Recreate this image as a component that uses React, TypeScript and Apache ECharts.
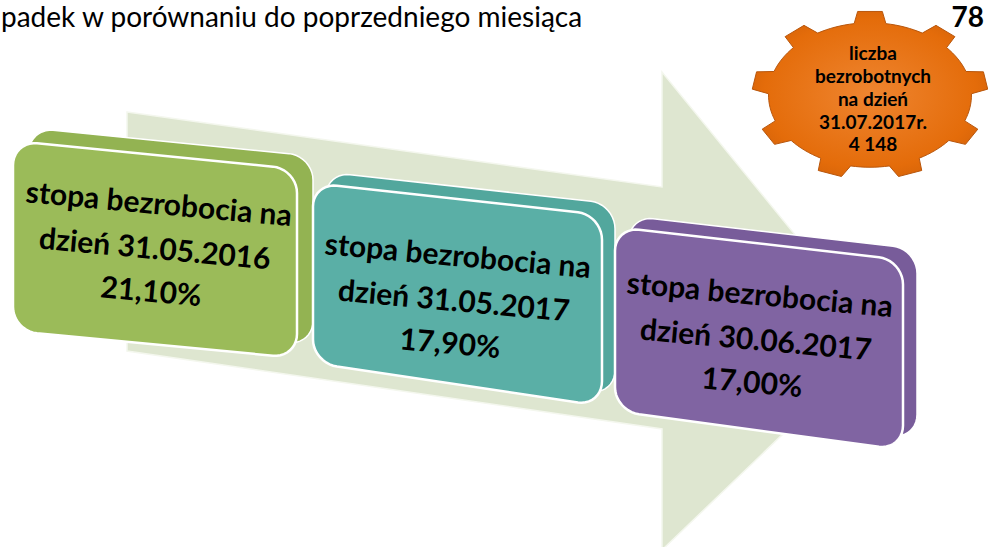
import React, { useEffect, useRef } from 'react';
import * as echarts from 'echarts';

// ---------- content ----------
const headerText = 'padek w porównaniu do poprzedniego miesiąca';
const headerNumber = '78';
const boxTitles = ['stopa bezrobocia na', 'stopa bezrobocia na', 'stopa bezrobocia na'];
const boxDates = ['dzień 31.05.2016', 'dzień 31.05.2017', 'dzień 30.06.2017'];
const boxValues = ['21,10%', '17,90%', '17,00%'];
const gearLines = ['liczba', 'bezrobotnych', 'na dzień', '31.07.2017r.', '4 148'];

// ---------- layout / style ----------
type P = [number, number];
const FRONT: P[][] = [
  [[13, 141], [297, 169], [297, 358], [13, 331]],
  [[313, 183], [602, 215], [602, 406], [313, 363]],
  [[615, 227], [903, 260], [903, 450], [615, 411]],
];
const BACK_OFFSET: P[] = [[16, -13], [13, -11], [14, -11]];
const FACE = ['#9bbb59', '#5aafa6', '#8064a2'];
const SIDE = ['#93b352', '#52a79d', '#785c9a'];
const TEXT_CENTER: P[] = [[155, 247], [454, 299], [756, 338]];
const ARROW: P[] = [[127, 112], [662, 187], [662, 72], [881, 340], [662, 550], [662, 429], [127, 351]];
const TILT = 0.09;

function lerp(a: P, b: P, t: number): P {
  return [a[0] + (b[0] - a[0]) * t, a[1] + (b[1] - a[1]) * t];
}
function mapQuad(q: P[], u: number, v: number): P {
  const top = lerp(q[0], q[1], u);
  const bot = lerp(q[3], q[2], u);
  return lerp(top, bot, v);
}
function roundedQuad(q: P[], r: number, seg = 10): P[] {
  const W = ((q[1][0] - q[0][0]) + (q[2][0] - q[3][0])) / 2;
  const H = ((q[3][1] - q[0][1]) + (q[2][1] - q[1][1])) / 2;
  const ru = r / W, rv = r / H;
  const corners: [number, number, number][] = [
    [ru, rv, 180], [1 - ru, rv, 270], [1 - ru, 1 - rv, 0], [ru, 1 - rv, 90],
  ];
  const pts: P[] = [];
  corners.forEach(([cu, cv, start]) => {
    for (let i = 0; i <= seg; i++) {
      const a = ((start + (90 * i) / seg) * Math.PI) / 180;
      pts.push(mapQuad(q, cu + ru * Math.cos(a), cv + rv * Math.sin(a)));
    }
  });
  return pts;
}
function shift(q: P[], d: P): P[] {
  return q.map((p) => [p[0] + d[0], p[1] + d[1]] as P);
}
function gearPoints(cx: number, cy: number, rx: number, ry: number, teeth: number,
  bodyR: number, baseHalf: number, tipHalf: number, startDeg: number): P[] {
  const pts: P[] = [];
  const step = 360 / teeth;
  const pt = (deg: number, r: number): P => {
    const a = (deg * Math.PI) / 180;
    return [cx + rx * r * Math.cos(a), cy + ry * r * Math.sin(a)];
  };
  for (let k = 0; k < teeth; k++) {
    const c = startDeg + k * step;
    const prevEnd = c - step + baseHalf;
    const thisStart = c - baseHalf;
    const n = 8;
    for (let i = 0; i <= n; i++) pts.push(pt(prevEnd + ((thisStart - prevEnd) * i) / n, bodyR));
    pts.push(pt(c - tipHalf, 1));
    pts.push(pt(c + tipHalf, 1));
  }
  return pts;
}

export default function App() {
  const ref = useRef<HTMLDivElement>(null);
  useEffect(() => {
    document.body.style.margin = '0';
    if (!ref.current) return;
    const chart = echarts.init(ref.current, null, { renderer: 'svg' });
    const elements: any[] = [];
    elements.push({
      type: 'polygon',
      shape: { points: ARROW },
      style: { fill: '#dee6d0', stroke: '#f4f7ee', lineWidth: 1.5 },
    });
    FRONT.forEach((q, i) => {
      elements.push({
        type: 'polygon',
        shape: { points: roundedQuad(shift(q, BACK_OFFSET[i]), 24) },
        style: { fill: SIDE[i], stroke: '#ffffff', lineWidth: 1.5 },
      });
      elements.push({
        type: 'polygon',
        shape: { points: roundedQuad(q, 24) },
        style: { fill: FACE[i], stroke: '#ffffff', lineWidth: 2.5 },
      });
      const lines = [boxTitles[i], boxDates[i], boxValues[i]];
      const offs = [-45, 0, 43];
      lines.forEach((t, j) => {
        const oy = offs[j];
        elements.push({
          type: 'text',
          x: TEXT_CENTER[i][0] - oy * Math.sin(TILT),
          y: TEXT_CENTER[i][1] + oy * Math.cos(TILT),
          rotation: -TILT,
          style: {
            text: t,
            font: 'bold 30px Lato',
            fill: '#000000',
            textAlign: 'center',
            textVerticalAlign: 'middle',
            shadowColor: 'rgba(0,0,0,0.3)',
            shadowBlur: 3,
            shadowOffsetX: 1.5,
            shadowOffsetY: 1.5,
          },
        });
      });
    });
    // gear
    elements.push({
      type: 'polygon',
      shape: { points: gearPoints(870, 95, 118, 84, 9, 0.86, 9, 6, -90) },
      style: {
        fill: {
          type: 'radial', x: 0.5, y: 0.5, r: 0.6,
          colorStops: [
            { offset: 0, color: '#ef8530' },
            { offset: 0.75, color: '#e46c0a' },
            { offset: 1, color: '#cf5f08' },
          ],
        },
        stroke: '#b8560c',
        lineWidth: 1,
      },
    });
    const gearY = [52, 75, 98, 121, 143];
    gearLines.forEach((t, j) => {
      elements.push({
        type: 'text',
        x: 873,
        y: gearY[j],
        style: {
          text: t, font: 'bold 19px Lato', fill: '#000000',
          textAlign: 'center', textVerticalAlign: 'middle',
        },
      });
    });
    elements.push({
      type: 'text', x: 1, y: 2,
      style: { text: headerText, font: '28px Lato', fill: '#000000', textAlign: 'left', textVerticalAlign: 'top' },
    });
    elements.push({
      type: 'text', x: 984, y: 2,
      style: { text: headerNumber, font: 'bold 28px Lato', fill: '#000000', textAlign: 'right', textVerticalAlign: 'top' },
    });
    chart.setOption({
      animation: false,
      backgroundColor: '#ffffff',
      graphic: { elements },
    });
    return () => chart.dispose();
  }, []);
  return <div ref={ref} style={{ width: 988, height: 547 }} />;
}
